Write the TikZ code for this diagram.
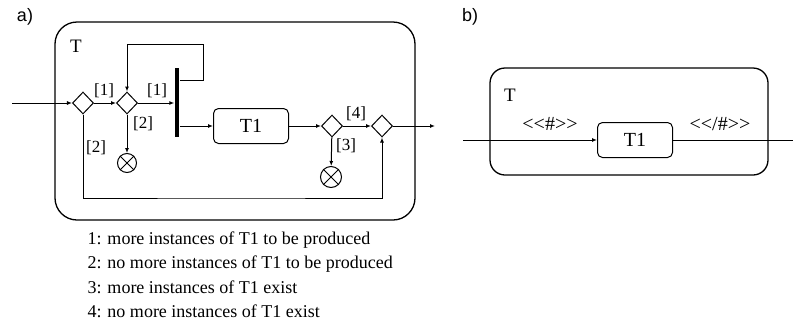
\documentclass[tikz,border=0pt]{standalone}
\usepackage{fontspec}
\setmainfont{Liberation Serif}
\newfontfamily\partfont{Liberation Sans}
\usetikzlibrary{shapes,shapes.geometric,arrows.meta}
\tikzset{
  dec/.style={
      draw,
      diamond,
      minimum width=21pt,
      minimum height=22pt,
      inner sep=0pt
  },
  task/.style={
      draw,
      rectangle,
      rounded corners=5pt,
      minimum width=75pt,
      minimum height=35pt,
      font=\fontsize{20}{20}\selectfont
  },
  final/.style={
      draw,
      circle,
      minimum size=19pt,
      inner sep=0pt
  },
  guard/.style={font=\fontsize{17}{17}\selectfont},
  note/.style={font=\fontsize{18}{18}\selectfont, anchor=base west, inner sep=0pt},
  flow/.style={-{Latex[length=5pt,width=4pt]}},
  outer/.style={draw, line width=1.3pt, rounded corners=#1}
}

\begin{document}
\begin{tikzpicture}[x=1pt,y=-1pt,line width=1pt]
    \useasboundingbox (0,0) rectangle (793,322);
    \node[font=\partfont\fontsize{18}{18}\selectfont] (pa) at (25,17) {a)};
    \draw[outer=22pt] (55,22) rectangle (415,220);
    \node[font=\fontsize{19}{19}\selectfont] (ta) at (76,46) {T};
    \coordinate (ina) at (12,103);
    \node[dec] (d1) at (83,103) {};
    \node[dec] (d2) at (127,103) {};
    \node[fill, rectangle, minimum width=4.5pt, minimum height=69pt, inner sep=0pt] (bar) at (177,102.5) {};
    \node[task] (t1) at (251,126) {T1};
    \node[dec] (d3) at (332,126) {};
    \node[dec] (d4) at (382,126) {};
    \coordinate (outa) at (435,126);
    \node[final] (e1) at (127,163) {};
    \node[final, minimum size=21pt] (e2) at (331,177) {};
    \coordinate (loop) at (203,44);
    \coordinate (bot) at (230,198);
    \draw (e1.45) -- (e1.225) (e1.135) -- (e1.315);
    \draw (e2.45) -- (e2.225) (e2.135) -- (e2.315);
    \draw[flow] (ina) -- (d1);
    \draw[flow] (d1) -- (d2);
    \draw[flow] (d2) -- (bar.west |- d2);
    \draw[flow] (bar.east |- 0,80) -| (loop) -| (d2.north);
    \draw[flow] (bar.east |- t1) -- (t1);
    \draw[flow] (d2) -- (e1);
    \draw[flow] (t1) -- (d3);
    \draw[flow] (d3) -- (d4);
    \draw[flow] (d3) -- (e2);
    \draw[flow] (d4) -- (outa);
    \draw[flow] (d1.south) |- (bot) -| (d4.south);
    \node[guard] (g1) at (104,91) {[1]};
    \node[guard] (g2) at (157,91) {[1]};
    \node[guard] (g3) at (143,124) {[2]};
    \node[guard] (g4) at (96,148) {[2]};
    \node[guard] (g5) at (356,114) {[4]};
    \node[guard] (g6) at (346,146) {[3]};
    \node[note] (l1) at (87,244) {1: more instances of T1 to be produced};
    \node[note] (l2) at (87,268.5) {2: no more instances of T1 to be produced};
    \node[note] (l3) at (87,293) {3: more instances of T1 exist};
    \node[note] (l4) at (87,317.5) {4: no more instances of T1 exist};
    \node[font=\partfont\fontsize{18}{18}\selectfont] (pb) at (470,17) {b)};
    \draw[outer=15pt] (490,68) rectangle (768,175);
    \node[font=\fontsize{19}{19}\selectfont] (tb) at (510,95) {T};
    \coordinate (inb) at (463,140);
    \node[task] (t1b) at (635,140) {T1};
    \coordinate (outb) at (793,140);
    \draw[flow] (inb) -- (t1b);
    \draw (t1b) -- (outb);
    \node[font=\fontsize{20}{20}\selectfont] (open) at (550,124) {{<}{<}\#{>}{>}};
    \node[font=\fontsize{20}{20}\selectfont] (close) at (720,124) {{<}{<}/\#{>}{>}};
\end{tikzpicture}
\end{document}
